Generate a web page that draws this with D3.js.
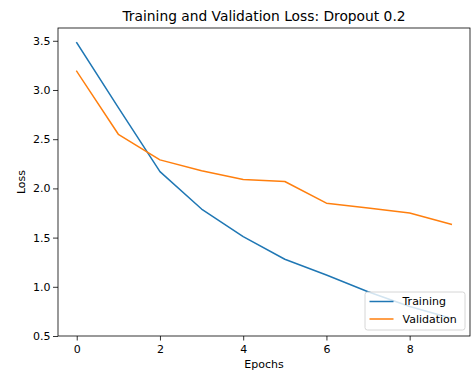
<!DOCTYPE html>
<html>
<head>
<meta charset="utf-8">
<script src="https://cdn.jsdelivr.net/npm/d3@7"></script>
<style>
  html, body { margin: 0; padding: 0; background: #fff; }
  svg { display: block; font-family: "DejaVu Sans", sans-serif; }
</style>
</head>
<body>
<svg id="chart" width="472" height="374"></svg>
<script>
// Loss per epoch
const epochs = [0, 1, 2, 3, 4, 5, 6, 7, 8, 9];
const trainingLoss = [3.48, 2.82, 2.17, 1.79, 1.51, 1.28, 1.12, 0.95, 0.80, 0.68];
const validationLoss = [3.19, 2.55, 2.29, 2.18, 2.09, 2.07, 1.85, 1.80, 1.75, 1.635];
const xTicks = [0, 2, 4, 6, 8];
const yTicks = [0.5, 1.0, 1.5, 2.0, 2.5, 3.0, 3.5];
const seriesNames = ["Training", "Validation"];
const seriesColors = ["#1f77b4", "#ff7f0e"];

const svg = d3.select("#chart");
const plotLeft = 58, plotRight = 470, plotTop = 28, plotBottom = 336;

const x = d3.scaleLinear().domain([-0.45, 9.45]).range([plotLeft, plotRight]);
const y = d3.scaleLinear().domain([0.5, 3.63]).range([plotBottom, plotTop]);

const line = d3.line().x((d, i) => x(epochs[i])).y(d => y(d));

const plot = svg.append("g");
[trainingLoss, validationLoss].forEach((s, k) => {
  plot.append("path")
    .datum(s)
    .attr("d", line)
    .attr("fill", "none")
    .attr("stroke", seriesColors[k])
    .attr("stroke-width", 1.5)
    .attr("stroke-linejoin", "round")
    .attr("stroke-linecap", "square");
});

// axes
const xAxis = d3.axisBottom(x).tickValues(xTicks).tickFormat(d3.format("d")).tickSize(4.5).tickPadding(4.5);
const yAxis = d3.axisLeft(y).tickValues(yTicks).tickFormat(d3.format(".1f")).tickSize(5).tickPadding(2.5);

const gx = svg.append("g").attr("transform", `translate(0,${plotBottom})`).call(xAxis);
const gy = svg.append("g").attr("transform", `translate(${plotLeft},0)`).call(yAxis);
[gx, gy].forEach(g => {
  g.select(".domain").remove();
  g.selectAll("line").attr("stroke", "#000").attr("stroke-width", 0.8);
  g.selectAll("text").attr("font-size", 11).attr("fill", "#000")
    .attr("font-family", "DejaVu Sans, sans-serif");
});

// frame
svg.append("rect")
  .attr("x", plotLeft).attr("y", plotTop)
  .attr("width", plotRight - plotLeft).attr("height", plotBottom - plotTop)
  .attr("fill", "none").attr("stroke", "#000").attr("stroke-width", 0.8);

// title and axis labels
svg.append("text")
  .attr("x", (plotLeft + plotRight) / 2).attr("y", 21)
  .attr("text-anchor", "middle").attr("font-size", 13.8)
  .text("Training and Validation Loss: Dropout 0.2");

svg.append("text")
  .attr("x", (plotLeft + plotRight) / 2).attr("y", 368)
  .attr("text-anchor", "middle").attr("font-size", 11)
  .text("Epochs");

svg.append("text")
  .attr("transform", `translate(25,${(plotTop + plotBottom) / 2}) rotate(-90)`)
  .attr("text-anchor", "middle").attr("font-size", 11)
  .text("Loss");

// legend
const legend = svg.append("g").attr("transform", "translate(365,292)");
legend.append("rect")
  .attr("width", 100).attr("height", 38).attr("rx", 2.5)
  .attr("fill", "#fff").attr("fill-opacity", 0.8)
  .attr("stroke", "#ccc").attr("stroke-width", 0.8);
seriesNames.forEach((name, i) => {
  const cy = 9.5 + i * 17.5;
  legend.append("line")
    .attr("x1", 4.5).attr("x2", 28.5).attr("y1", cy).attr("y2", cy)
    .attr("stroke", seriesColors[i]).attr("stroke-width", 1.5);
  legend.append("text")
    .attr("x", 37.5).attr("y", cy).attr("dy", "0.35em")
    .attr("font-size", 11)
    .text(name);
});
</script>
</body>
</html>
